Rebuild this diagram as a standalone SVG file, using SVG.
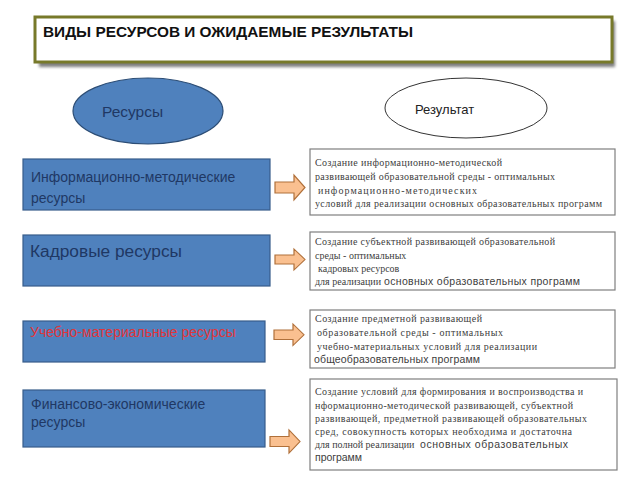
<svg xmlns="http://www.w3.org/2000/svg" xmlns:xlink="http://www.w3.org/1999/xlink" width="640" height="480" viewBox="0 0 640 480">
<defs>
<filter id="sh" x="-10%" y="-30%" width="120%" height="160%"><feGaussianBlur stdDeviation="1.5"/></filter>
<path id="arr" d="M0,7 H19 V0 L30,12.5 L19,25 V18 H0 Z"/>
<style>
.res{fill:#4f81bd;stroke:#385d8a;stroke-width:1.2}
.lt{font-family:"Liberation Sans",Arial,sans-serif;fill:#1f3864}
.out{fill:#fff;stroke:#7f7f7f;stroke-width:1.2}
.st{font-family:"Liberation Serif","Times New Roman",serif;font-size:10px;fill:#404040}
.ss{font-family:"Liberation Sans",Arial,sans-serif;font-size:10.5px;fill:#404040}
.ar{fill:#fac090;stroke:#b0703a;stroke-width:1.2}
</style>
</defs>
<rect width="640" height="480" fill="#fff"/>
<g id="title">
<rect x="39" y="21" width="576" height="46" fill="#7f7f7f" filter="url(#sh)"/>
<rect x="35" y="17" width="577" height="45" fill="#fff" stroke="#77792a" stroke-width="3"/>
<text x="43" y="37" font-family="'Liberation Sans',Arial,sans-serif" font-size="15" font-weight="bold" fill="#111" textLength="370" lengthAdjust="spacingAndGlyphs">ВИДЫ РЕСУРСОВ И ОЖИДАЕМЫЕ РЕЗУЛЬТАТЫ</text>
</g>
<g id="resources">
<ellipse cx="148" cy="111" rx="75" ry="33" fill="#4f81bd" stroke="#2c4d75" stroke-width="1.2"/>
<text x="102" y="117" class="lt" font-size="15.5">Ресурсы</text>
</g>
<g id="result">
<ellipse cx="466" cy="108" rx="81" ry="30" fill="#fff" stroke="#333" stroke-width="1"/>
<text x="415" y="114" font-family="'Liberation Sans',Arial,sans-serif" font-size="13" fill="#222">Результат</text>
</g>
<g id="r1">
<rect x="23" y="159" width="247" height="51" class="res"/>
<text class="lt" font-size="14"><tspan x="31" y="182">Информационно-методические</tspan><tspan x="31" y="203">ресурсы</tspan></text>
</g>
<g id="r2">
<rect x="23" y="235" width="247" height="51" class="res"/>
<text x="30" y="257" class="lt" font-size="17.3">Кадровые ресурсы</text>
</g>
<g id="r3">
<rect x="23" y="321" width="242" height="41" class="res"/>
<text x="30" y="337" font-family="'Liberation Sans',Arial,sans-serif" font-size="14" fill="#e0353a">Учебно-материальные ресурсы</text>
</g>
<g id="r4">
<rect x="23" y="390" width="242" height="57" class="res"/>
<text class="lt" font-size="14"><tspan x="31" y="409">Финансово-экономические</tspan><tspan x="31" y="427">ресурсы</tspan></text>
</g>
<g id="o1">
<rect x="310" y="149" width="305" height="66" class="out"/>
<text class="st"><tspan x="315" y="166" textLength="187" lengthAdjust="spacing">Создание информационно-методической</tspan><tspan x="315" y="180" textLength="240" lengthAdjust="spacing">развивающей образовательной среды - оптимальных</tspan><tspan x="318" y="194" textLength="159" lengthAdjust="spacing">информационно-методических</tspan><tspan x="315" y="207" textLength="287" lengthAdjust="spacing">условий для реализации основных образовательных программ</tspan></text>
</g>
<g id="o2">
<rect x="310" y="232" width="305" height="58" class="out"/>
<text class="st"><tspan x="315" y="245" textLength="240" lengthAdjust="spacing">Создание субъектной развивающей образовательной</tspan><tspan x="315" y="259">среды - оптимальных</tspan><tspan x="318" y="272">кадровых ресурсов</tspan><tspan x="315" y="285">для реализации</tspan></text>
<text x="384" y="285" class="ss" font-size="10" textLength="196" lengthAdjust="spacing">основных образовательных программ</text>
</g>
<g id="o3">
<rect x="310" y="310" width="305" height="58" class="out"/>
<text class="st"><tspan x="315" y="322" textLength="167" lengthAdjust="spacing">Создание предметной  развивающей</tspan><tspan x="317" y="336" textLength="186" lengthAdjust="spacing">образовательной среды - оптимальных</tspan><tspan x="317" y="350" textLength="220" lengthAdjust="spacing">учебно-материальных условий для реализации</tspan></text>
<text x="314" y="363" class="ss" textLength="166" lengthAdjust="spacing">общеобразовательных программ</text>
</g>
<g id="o4">
<rect x="310" y="379" width="307" height="91" class="out"/>
<text class="st"><tspan x="315" y="395" textLength="268" lengthAdjust="spacing">Создание условий для формирования и воспроизводства  и</tspan><tspan x="315" y="409" textLength="258" lengthAdjust="spacing">нформационно-методической развивающей,  субъектной</tspan><tspan x="315" y="422" textLength="272" lengthAdjust="spacing">развивающей, предметной  развивающей  образовательных</tspan><tspan x="315" y="435" textLength="257" lengthAdjust="spacing">сред,  совокупность  которых   необходима и достаточна</tspan><tspan x="315" y="448">для полной   реализации</tspan></text>
<text class="ss"><tspan x="420" y="448" textLength="148" lengthAdjust="spacing">основных образовательных</tspan><tspan x="315" y="461" textLength="47" lengthAdjust="spacing">программ</tspan></text>
</g>
<g id="connectors">
<use xlink:href="#arr" class="ar" transform="translate(275,175)"/>
<use xlink:href="#arr" class="ar" transform="translate(275,249) scale(1,0.84)"/>
<use xlink:href="#arr" class="ar" transform="translate(274,324) scale(1,0.86)"/>
<use xlink:href="#arr" class="ar" transform="translate(270,430) scale(1,0.92)"/>
</g>
</svg>
